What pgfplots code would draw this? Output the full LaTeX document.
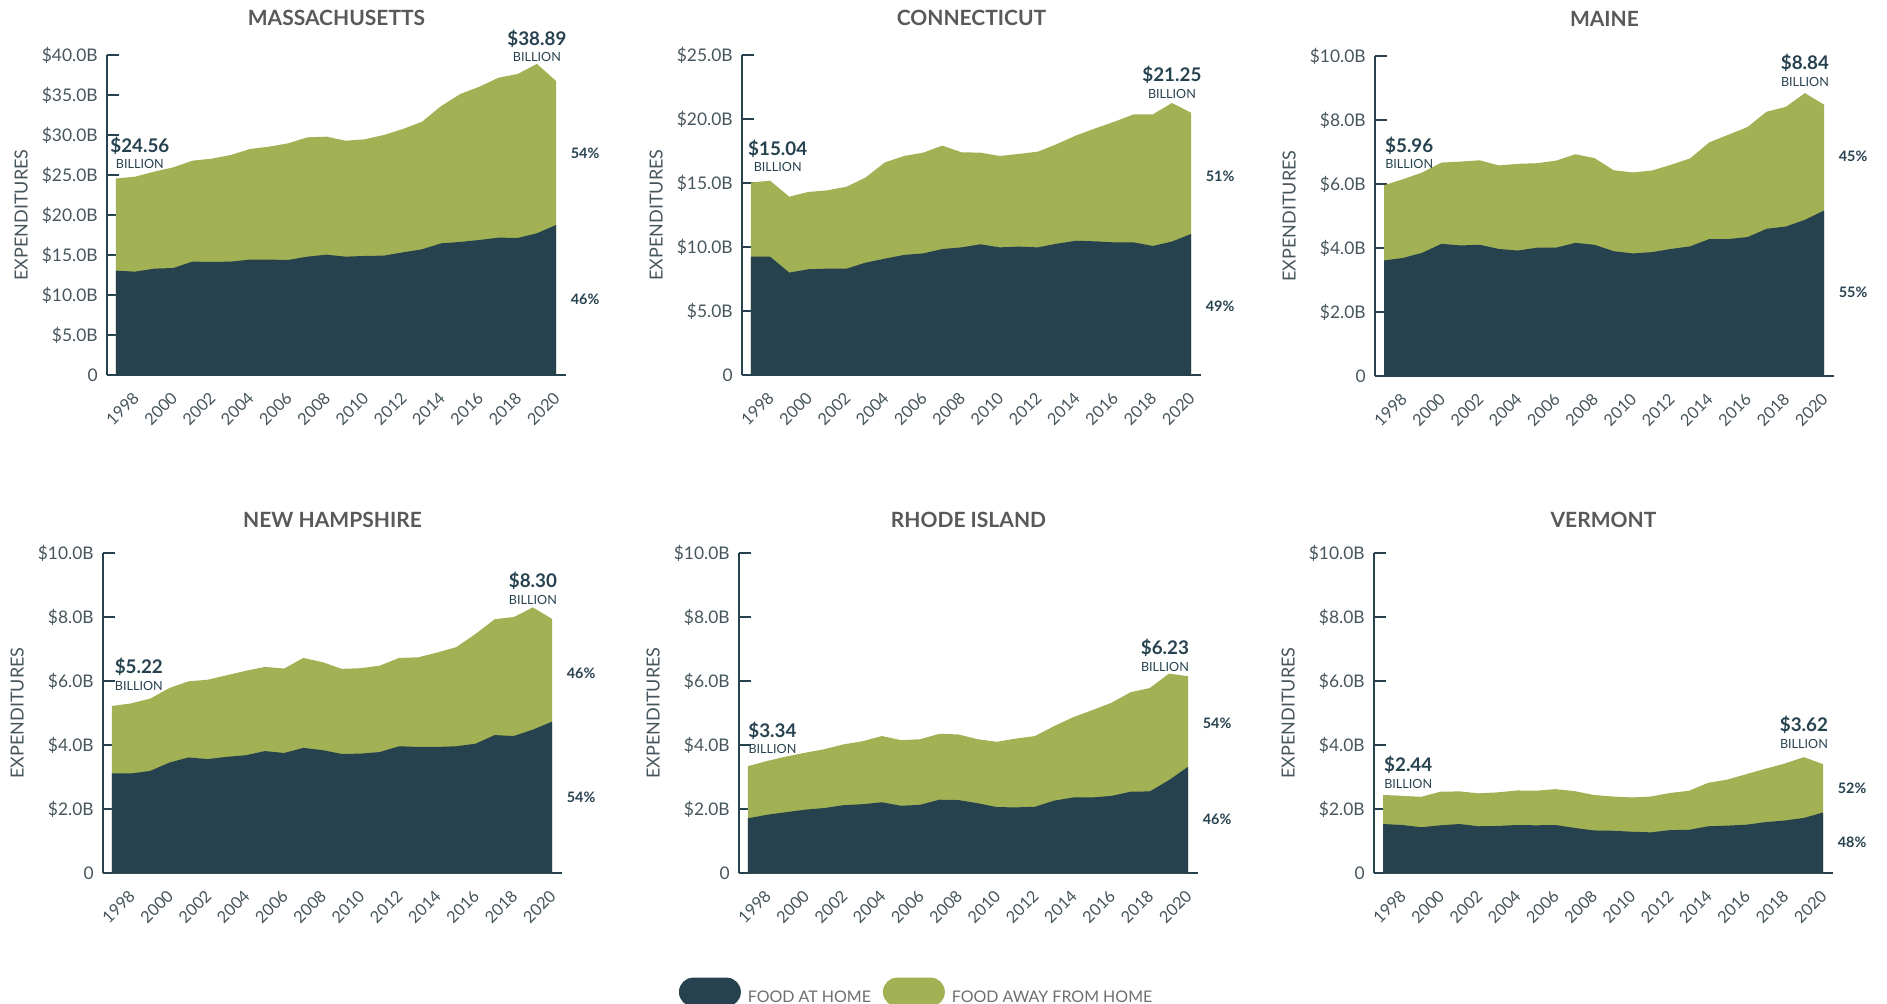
\documentclass[border=0pt]{standalone}
\usepackage{fontspec}
\setmainfont{Lato}
\usepackage{pgfplots}
\usepackage{pgfplotstable}
\pgfplotsset{compat=1.18}
\definecolor{home}{HTML}{27424F}
\definecolor{away}{HTML}{A2B153}
\definecolor{axcol}{HTML}{27424F}
\definecolor{ttl}{HTML}{58595B}
\definecolor{tickc}{HTML}{46555C}
\definecolor{legc}{HTML}{6E6E6E}

\pgfplotstableread{
year home total
1997 13.04 24.56
1998 12.92 24.79
1999 13.29 25.42
2000 13.38 25.96
2001 14.17 26.79
2002 14.13 27.04
2003 14.17 27.50
2004 14.42 28.25
2005 14.42 28.54
2006 14.38 28.96
2007 14.79 29.71
2008 15.04 29.79
2009 14.79 29.29
2010 14.88 29.46
2011 14.92 30.00
2012 15.33 30.75
2013 15.71 31.67
2014 16.46 33.63
2015 16.63 35.13
2016 16.88 36.04
2017 17.17 37.17
2018 17.13 37.63
2019 17.71 38.89
2020 18.75 36.75
}\MA
\pgfplotstableread{
year home total
1997 9.24 15.04
1998 9.24 15.18
1999 8.00 13.93
2000 8.26 14.30
2001 8.31 14.43
2002 8.31 14.71
2003 8.78 15.44
2004 9.09 16.61
2005 9.38 17.11
2006 9.50 17.37
2007 9.84 17.92
2008 9.97 17.40
2009 10.21 17.37
2010 9.97 17.11
2011 10.03 17.27
2012 9.97 17.45
2013 10.26 18.05
2014 10.49 18.72
2015 10.44 19.27
2016 10.36 19.79
2017 10.36 20.36
2018 10.08 20.36
2019 10.42 21.25
2020 11.02 20.49
}\CT
\pgfplotstableread{
year home total
1997 3.61 5.96
1998 3.69 6.15
1999 3.85 6.36
2000 4.13 6.67
2001 4.08 6.70
2002 4.10 6.74
2003 3.97 6.58
2004 3.92 6.63
2005 4.01 6.65
2006 4.01 6.73
2007 4.16 6.93
2008 4.10 6.81
2009 3.90 6.43
2010 3.83 6.36
2011 3.87 6.42
2012 3.97 6.60
2013 4.05 6.80
2014 4.28 7.30
2015 4.28 7.54
2016 4.34 7.78
2017 4.60 8.26
2018 4.67 8.41
2019 4.88 8.84
2020 5.17 8.48
}\ME
\pgfplotstableread{
year home total
1997 3.11 5.22
1998 3.11 5.30
1999 3.19 5.45
2000 3.45 5.78
2001 3.61 5.99
2002 3.56 6.04
2003 3.63 6.18
2004 3.68 6.32
2005 3.81 6.44
2006 3.75 6.39
2007 3.91 6.72
2008 3.84 6.59
2009 3.72 6.38
2010 3.73 6.40
2011 3.78 6.48
2012 3.96 6.72
2013 3.94 6.74
2014 3.94 6.89
2015 3.96 7.06
2016 4.04 7.47
2017 4.31 7.93
2018 4.28 8.00
2019 4.48 8.30
2020 4.73 7.94
}\NH
\pgfplotstableread{
year home total
1997 1.71 3.34
1998 1.82 3.50
1999 1.90 3.64
2000 1.98 3.76
2001 2.03 3.87
2002 2.12 4.02
2003 2.15 4.12
2004 2.21 4.28
2005 2.10 4.15
2006 2.13 4.18
2007 2.29 4.35
2008 2.28 4.33
2009 2.18 4.18
2010 2.06 4.10
2011 2.05 4.20
2012 2.07 4.28
2013 2.26 4.59
2014 2.36 4.87
2015 2.36 5.09
2016 2.41 5.32
2017 2.54 5.65
2018 2.55 5.78
2019 2.90 6.23
2020 3.32 6.15
}\RI
\pgfplotstableread{
year home total
1997 1.53 2.44
1998 1.50 2.41
1999 1.43 2.38
2000 1.49 2.54
2001 1.53 2.55
2002 1.46 2.49
2003 1.47 2.52
2004 1.50 2.58
2005 1.49 2.57
2006 1.50 2.62
2007 1.41 2.56
2008 1.33 2.44
2009 1.32 2.39
2010 1.29 2.36
2011 1.27 2.39
2012 1.34 2.50
2013 1.35 2.57
2014 1.46 2.82
2015 1.48 2.92
2016 1.51 3.09
2017 1.59 3.26
2018 1.64 3.42
2019 1.72 3.62
2020 1.89 3.40
}\VT

\newcommand{\lbl}[1]{{\fontsize{9.4}{9.4}\selectfont\bfseries\$#1}\\{BILLION}}

\tikzset{
  ann/.style={align=center, inner sep=0pt, text=axcol, font=\fontsize{6.3}{8.3}\selectfont},
  pct/.style={font=\fontsize{7.2}{8}\selectfont\bfseries, text=axcol, xshift=14.5pt},
}

\pgfplotsset{
  panel/.style={
    scale only axis, width=229.5pt, height=160pt,
    axis lines=left,
    axis line style={-, draw=axcol, line width=1.4pt},
    tick align=inside,
    xmin=1996.53, xmax=2020.52, ymin=0,
    xtick={1998,2000,2002,2004,2006,2008,2010,2012,2014,2016,2018,2020},
    xticklabels={1998,2000,2002,2004,2006,2008,2010,2012,2014,2016,2018,2020},
    xtick style={draw=none},
    xticklabel style={xshift=0.5pt, yshift=-10pt, rotate=45, anchor=east, inner sep=0pt,
      font=\fontsize{8.2}{9}\selectfont, text=tickc},
    ytick style={draw=axcol, line width=1.1pt},
    major tick length=6pt,
    yticklabel style={anchor=east, inner sep=0pt, xshift=-4.5pt,
      font=\fontsize{8.7}{9}\selectfont, text=tickc},
    title style={at={(axis description cs:0.5,1)}, anchor=center,
      font=\fontsize{10.5}{11}\selectfont\bfseries, text=ttl},
    ylabel={EXPENDITURES},
    ylabel style={at={(axis description cs:-0.187,0.5)}, anchor=center,
      font=\fontsize{9}{10}\selectfont, text=tickc},
    clip=false,
  },
  toprow/.style={title style={yshift=12.5pt}},
  botrow/.style={title style={yshift=10.5pt}},
  big10/.style={ymax=10, ytick={0,2,4,6,8,10},
    yticklabels={0,\$2.0B,\$4.0B,\$6.0B,\$8.0B,\$10.0B}},
}

\begin{document}
\begin{tikzpicture}
\useasboundingbox (0,0) rectangle (943.5pt,501.5pt);

% MASSACHUSETTS
\begin{axis}[panel, toprow, at={(53.5pt,314pt)}, anchor=south west, title={MASSACHUSETTS},
  ymax=40, ytick={0,5,10,15,20,25,30,35,40},
  yticklabels={0,\$5.0B,\$10.0B,\$15.0B,\$20.0B,\$25.0B,\$30.0B,\$35.0B,\$40.0B}]
\addplot[fill=away, draw=none] table[x=year, y=total] {\MA} \closedcycle;
\addplot[fill=home, draw=none] table[x=year, y=home] {\MA} \closedcycle;
\node[ann, anchor=south west, xshift=-3pt, yshift=4.7pt] at (axis cs:1997,24.56) {\lbl{24.56}};
\node[ann, anchor=south, yshift=0.8pt] at (axis cs:2019,38.89) {\lbl{38.89}};
\node[pct] at (axis cs:2020,27.75) {54\%};
\node[pct] at (axis cs:2020,9.4) {46\%};
\end{axis}

% CONNECTICUT
\begin{axis}[panel, toprow, at={(371pt,314pt)}, anchor=south west, title={CONNECTICUT},
  ymax=25, ytick={0,5,10,15,20,25},
  yticklabels={0,\$5.0B,\$10.0B,\$15.0B,\$20.0B,\$25.0B}]
\addplot[fill=away, draw=none] table[x=year, y=total] {\CT} \closedcycle;
\addplot[fill=home, draw=none] table[x=year, y=home] {\CT} \closedcycle;
\node[ann, anchor=south west, xshift=-1.6pt, yshift=5pt] at (axis cs:1997,15.04) {\lbl{15.04}};
\node[ann, anchor=south, yshift=2pt] at (axis cs:2019,21.25) {\lbl{21.25}};
\node[pct] at (axis cs:2020,15.5) {51\%};
\node[pct] at (axis cs:2020,5.4) {49\%};
\end{axis}

% MAINE
\begin{axis}[panel, toprow, big10, at={(687.5pt,313.5pt)}, anchor=south west, title={MAINE}]
\addplot[fill=away, draw=none] table[x=year, y=total] {\ME} \closedcycle;
\addplot[fill=home, draw=none] table[x=year, y=home] {\ME} \closedcycle;
\node[ann, anchor=south west, xshift=0.4pt, yshift=8pt] at (axis cs:1997,5.96) {\lbl{5.96}};
\node[ann, anchor=south, yshift=3.3pt] at (axis cs:2019,8.84) {\lbl{8.84}};
\node[pct] at (axis cs:2020,6.86) {45\%};
\node[pct] at (axis cs:2020,2.6) {55\%};
\end{axis}

% NEW HAMPSHIRE
\begin{axis}[panel, botrow, big10, at={(51.5pt,65pt)}, anchor=south west, title={NEW HAMPSHIRE}]
\addplot[fill=away, draw=none] table[x=year, y=total] {\NH} \closedcycle;
\addplot[fill=home, draw=none] table[x=year, y=home] {\NH} \closedcycle;
\node[ann, anchor=south west, xshift=1.2pt, yshift=7.5pt] at (axis cs:1997,5.22) {\lbl{5.22}};
\node[ann, anchor=south, yshift=1.3pt] at (axis cs:2019,8.30) {\lbl{8.30}};
\node[pct] at (axis cs:2020,6.24) {46\%};
\node[pct] at (axis cs:2020,2.36) {54\%};
\end{axis}

% RHODE ISLAND
\begin{axis}[panel, botrow, big10, at={(369.5pt,65pt)}, anchor=south west, title={RHODE ISLAND},
  legend style={at={(axis description cs:-0.1307,-0.372)}, anchor=west, draw=none, fill=none,
    inner sep=0pt, outer sep=0pt, legend columns=2, font=\fontsize{8}{9}\selectfont, text=legc,
    nodes={inner sep=0pt},
    /tikz/column 1/.style={column sep=3.5pt},
    /tikz/column 2/.style={column sep=6pt},
    /tikz/column 3/.style={column sep=3.5pt}},
  legend cell align=left]
\addplot[fill=away, draw=none, forget plot] table[x=year, y=total] {\RI} \closedcycle;
\addplot[fill=home, draw=none, forget plot] table[x=year, y=home] {\RI} \closedcycle;
\addlegendimage{legend image code/.code={\fill[home, rounded corners=6.9pt] (0pt,-4.15pt) rectangle (30.5pt,9.85pt);}}
\addlegendentry{FOOD AT HOME}
\addlegendimage{legend image code/.code={\fill[away, rounded corners=6.9pt] (0pt,-4.15pt) rectangle (30.5pt,9.85pt);}}
\addlegendentry{FOOD AWAY FROM HOME}
\node[ann, anchor=south west, xshift=0pt, yshift=6pt] at (axis cs:1997,3.34) {\lbl{3.34}};
\node[ann, anchor=south, xshift=-2pt, yshift=0.8pt] at (axis cs:2019,6.23) {\lbl{6.23}};
\node[pct] at (axis cs:2020,4.69) {54\%};
\node[pct] at (axis cs:2020,1.68) {46\%};
\end{axis}

% VERMONT
\begin{axis}[panel, botrow, big10, at={(687pt,65pt)}, anchor=south west, title={VERMONT}]
\addplot[fill=away, draw=none] table[x=year, y=total] {\VT} \closedcycle;
\addplot[fill=home, draw=none] table[x=year, y=home] {\VT} \closedcycle;
\node[ann, anchor=south west, xshift=0.4pt, yshift=3pt] at (axis cs:1997,2.44) {\lbl{2.44}};
\node[ann, anchor=south, yshift=4.2pt] at (axis cs:2019,3.62) {\lbl{3.62}};
\node[pct] at (axis cs:2020,2.64) {52\%};
\node[pct] at (axis cs:2020,0.96) {48\%};
\end{axis}
\end{tikzpicture}
\end{document}
